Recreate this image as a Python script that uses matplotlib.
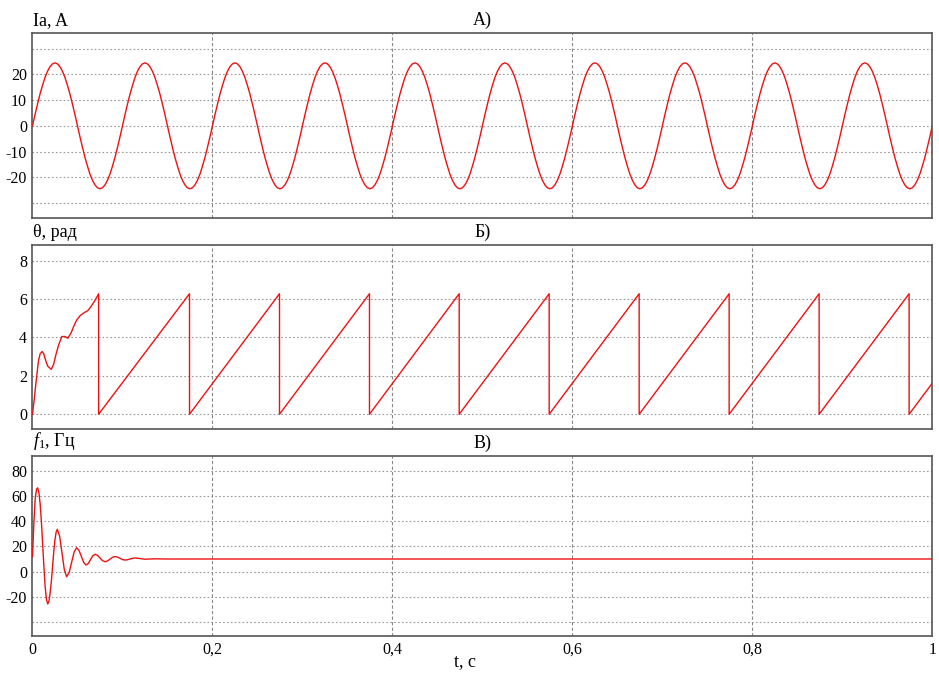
import matplotlib
matplotlib.use("Agg")
import matplotlib.pyplot as plt
import numpy as np

plt.rcParams["font.family"] = ["Liberation Serif", "DejaVu Serif"]
plt.rcParams["mathtext.fontset"] = "custom"
plt.rcParams["mathtext.rm"] = "Liberation Serif"
plt.rcParams["mathtext.it"] = "Liberation Serif:italic"

# A) phase current, one row per 0.1 s period (36 samples each)
ia_t = np.linspace(0.0, 1.0, 361)
ia = [
    0, 4.3, 8.4, 12.3, 15.7, 18.8, 21.2, 23.0, 24.1, 24.5, 24.1, 23.0, 21.2, 18.8, 15.7, 12.3, 8.4, 4.3,
    0, -4.3, -8.4, -12.3, -15.7, -18.8, -21.2, -23.0, -24.1, -24.5, -24.1, -23.0, -21.2, -18.8, -15.7, -12.3, -8.4, -4.3,
    0, 4.3, 8.4, 12.3, 15.7, 18.8, 21.2, 23.0, 24.1, 24.5, 24.1, 23.0, 21.2, 18.8, 15.7, 12.3, 8.4, 4.3,
    0, -4.3, -8.4, -12.3, -15.7, -18.8, -21.2, -23.0, -24.1, -24.5, -24.1, -23.0, -21.2, -18.8, -15.7, -12.3, -8.4, -4.3,
    0, 4.3, 8.4, 12.3, 15.7, 18.8, 21.2, 23.0, 24.1, 24.5, 24.1, 23.0, 21.2, 18.8, 15.7, 12.3, 8.4, 4.3,
    0, -4.3, -8.4, -12.3, -15.7, -18.8, -21.2, -23.0, -24.1, -24.5, -24.1, -23.0, -21.2, -18.8, -15.7, -12.3, -8.4, -4.3,
    0, 4.3, 8.4, 12.3, 15.7, 18.8, 21.2, 23.0, 24.1, 24.5, 24.1, 23.0, 21.2, 18.8, 15.7, 12.3, 8.4, 4.3,
    0, -4.3, -8.4, -12.3, -15.7, -18.8, -21.2, -23.0, -24.1, -24.5, -24.1, -23.0, -21.2, -18.8, -15.7, -12.3, -8.4, -4.3,
    0, 4.3, 8.4, 12.3, 15.7, 18.8, 21.2, 23.0, 24.1, 24.5, 24.1, 23.0, 21.2, 18.8, 15.7, 12.3, 8.4, 4.3,
    0, -4.3, -8.4, -12.3, -15.7, -18.8, -21.2, -23.0, -24.1, -24.5, -24.1, -23.0, -21.2, -18.8, -15.7, -12.3, -8.4, -4.3,
    0, 4.3, 8.4, 12.3, 15.7, 18.8, 21.2, 23.0, 24.1, 24.5, 24.1, 23.0, 21.2, 18.8, 15.7, 12.3, 8.4, 4.3,
    0, -4.3, -8.4, -12.3, -15.7, -18.8, -21.2, -23.0, -24.1, -24.5, -24.1, -23.0, -21.2, -18.8, -15.7, -12.3, -8.4, -4.3,
    0, 4.3, 8.4, 12.3, 15.7, 18.8, 21.2, 23.0, 24.1, 24.5, 24.1, 23.0, 21.2, 18.8, 15.7, 12.3, 8.4, 4.3,
    0, -4.3, -8.4, -12.3, -15.7, -18.8, -21.2, -23.0, -24.1, -24.5, -24.1, -23.0, -21.2, -18.8, -15.7, -12.3, -8.4, -4.3,
    0, 4.3, 8.4, 12.3, 15.7, 18.8, 21.2, 23.0, 24.1, 24.5, 24.1, 23.0, 21.2, 18.8, 15.7, 12.3, 8.4, 4.3,
    0, -4.3, -8.4, -12.3, -15.7, -18.8, -21.2, -23.0, -24.1, -24.5, -24.1, -23.0, -21.2, -18.8, -15.7, -12.3, -8.4, -4.3,
    0, 4.3, 8.4, 12.3, 15.7, 18.8, 21.2, 23.0, 24.1, 24.5, 24.1, 23.0, 21.2, 18.8, 15.7, 12.3, 8.4, 4.3,
    0, -4.3, -8.4, -12.3, -15.7, -18.8, -21.2, -23.0, -24.1, -24.5, -24.1, -23.0, -21.2, -18.8, -15.7, -12.3, -8.4, -4.3,
    0, 4.3, 8.4, 12.3, 15.7, 18.8, 21.2, 23.0, 24.1, 24.5, 24.1, 23.0, 21.2, 18.8, 15.7, 12.3, 8.4, 4.3,
    0, -4.3, -8.4, -12.3, -15.7, -18.8, -21.2, -23.0, -24.1, -24.5, -24.1, -23.0, -21.2, -18.8, -15.7, -12.3, -8.4, -4.3,
    0,
]

# Б) angle, sawtooth after the start-up transient
theta_t = [
    0, 0.002, 0.004, 0.0067, 0.0085, 0.0108, 0.0125, 0.015, 0.017, 0.0208, 0.0235, 0.026, 0.029,
    0.0326, 0.036, 0.0393, 0.043, 0.046, 0.049, 0.053, 0.057, 0.0615, 0.064, 0.067, 0.070, 0.0735,
    0.0735, 0.1745, 0.1745, 0.2745, 0.2745, 0.3745, 0.3745, 0.4742, 0.4742, 0.5742, 0.5742,
    0.6742, 0.6742, 0.7742, 0.7742, 0.8742, 0.8742, 0.9742, 0.9742, 1.0,
]
theta = [
    0, 0.8, 1.7, 2.8, 3.15, 3.27, 3.15, 2.75, 2.5, 2.34, 2.6, 3.1, 3.6,
    4.05, 4.05, 3.96, 4.25, 4.6, 4.9, 5.14, 5.28, 5.4, 5.55, 5.75, 5.98, 6.28,
    0, 6.28, 0, 6.28, 0, 6.28, 0, 6.28, 0, 6.28, 0,
    6.28, 0, 6.28, 0, 6.28, 0, 6.28, 0, 1.62,
]

# В) frequency, damped oscillation settling at 10 Hz
f1_t = [
    0, 0.0015, 0.003, 0.0045, 0.0058, 0.0072, 0.0086, 0.01, 0.0114, 0.0128, 0.0141, 0.0155, 0.0169,
    0.0183, 0.0196, 0.021, 0.0223, 0.0236, 0.0249, 0.0263, 0.0276, 0.0302, 0.0328, 0.0354, 0.038,
    0.0408, 0.0435, 0.0463, 0.049, 0.0516, 0.0543, 0.0569, 0.0595,
    0.062, 0.0645, 0.067, 0.0695, 0.0723, 0.075, 0.0778, 0.0806,
    0.0834, 0.0862, 0.0889, 0.0917, 0.0945, 0.0973, 0.1001, 0.103,
    0.1058, 0.1085, 0.1112, 0.114, 0.125, 0.136, 0.15, 1.0,
]
f1 = [
    12, 38, 58, 65.5, 66.5, 62.5, 53, 38.5, 20.5, 2.5, -12.1, -22, -25.6,
    -23.5, -17, -7.5, 4, 15.5, 25, 31.5, 33.6, 28.1, 14.8, 1.5, -4,
    -0.6, 7.5, 15.6, 19, 17, 12.2, 7.3, 5.3,
    6.5, 9.6, 12.6, 13.8, 12.9, 10.9, 8.8, 7.9,
    8.5, 10, 11.4, 12, 11.6, 10.6, 9.6, 9.2,
    9.5, 10.1, 10.6, 10.9, 9.9, 10.2, 10.05, 10.05,
]

x_ticks = [0, 0.2, 0.4, 0.6, 0.8, 1.0]
x_tick_labels = ["0", "0,2", "0,4", "0,6", "0,8", "1"]

panels = [
    dict(t=ia_t, y=ia, ylim=(-36, 36), yticks=[-30, -20, -10, 0, 10, 20, 30],
         ylabels=["", "-20", "-10", "0", "10", "20", ""], name="Ia, A", tag="A)",
         box=(0.0346, 0.6775, 0.9583, 0.2733)),
    dict(t=theta_t, y=theta, ylim=(-0.77, 8.82), yticks=[0, 2, 4, 6, 8],
         ylabels=["0", "2", "4", "6", "8"], name="θ, рад", tag="Б)",
         box=(0.0346, 0.3663, 0.9583, 0.2718)),
    dict(t=f1_t, y=f1, ylim=(-51, 92), yticks=[-40, -20, 0, 20, 40, 60, 80],
         ylabels=["", "-20", "0", "20", "40", "60", "80"], name=r"$f_1$, Гц", tag="В)",
         box=(0.0346, 0.0606, 0.9583, 0.2663)),
]

fig = plt.figure(figsize=(9.39, 6.77), dpi=100)

for i, p in enumerate(panels):
    ax = fig.add_axes(p["box"])
    ax.plot(p["t"], p["y"], color="#ee1111", linewidth=1.0, zorder=3)
    ax.set_xlim(0, 1)
    ax.set_ylim(*p["ylim"])
    ax.set_yticks(p["yticks"])
    ax.set_yticklabels(p["ylabels"], fontsize=11.5)
    ax.set_xticks(x_ticks)
    if i == 2:
        ax.set_xticklabels(x_tick_labels, fontsize=11.5)
    else:
        ax.set_xticklabels([])
    ax.tick_params(length=0, pad=4)
    # horizontal grid dotted, vertical dashed
    for yv in p["yticks"]:
        ax.axhline(yv, color="#999999", linewidth=0.8, linestyle=(0, (1.5, 2)), zorder=1)
    for xv in x_ticks[1:-1]:
        ax.axvline(xv, color="#888888", linewidth=0.8, linestyle=(0, (3, 2)), zorder=1)
    for s in ax.spines.values():
        s.set_color("#555555")
        s.set_linewidth(1.2)
    x0, y0, w, h = p["box"]
    fig.text(x0 + 0.001, y0 + h + 0.006, p["name"], fontsize=13, ha="left", va="bottom")
    fig.text(x0 + w / 2, y0 + h + 0.006, p["tag"], fontsize=13, ha="center", va="bottom")

fig.text(465 / 939, 1 - 661.7 / 677, "t, c", fontsize=13, ha="center", va="center")

fig.savefig("out.png", dpi=100)
